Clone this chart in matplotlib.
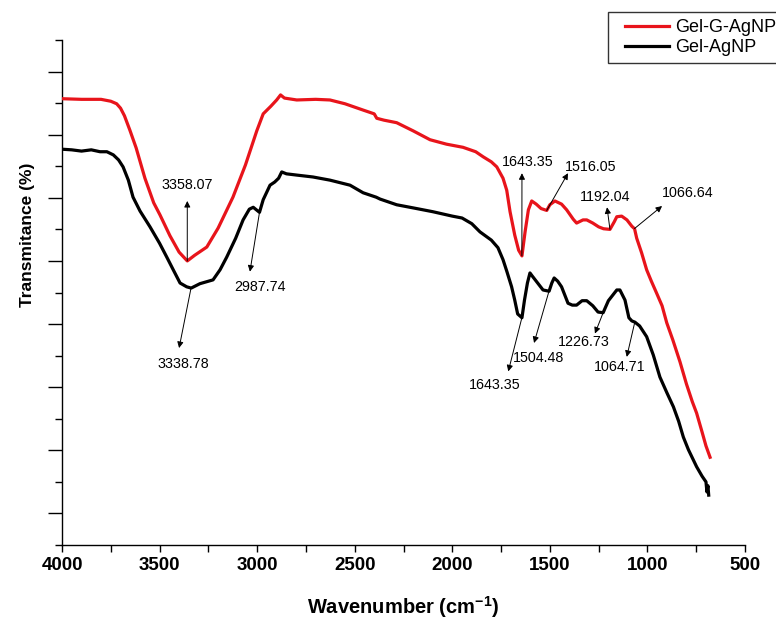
import numpy as np
import matplotlib
matplotlib.use("Agg")
import matplotlib.pyplot as plt
from matplotlib.ticker import MultipleLocator, FixedLocator, NullFormatter
from matplotlib.legend_handler import HandlerLine2D

plt.rcParams['font.family'] = ['Liberation Sans', 'DejaVu Sans']
plt.rcParams['mathtext.default'] = 'regular'

# FTIR spectrum, Gel-G-AgNP (wavenumber cm^-1, transmittance %)
wn_ggag = [4000, 3900, 3800, 3750, 3720, 3700, 3680, 3652, 3620, 3575, 3530, 3498,
           3447, 3400, 3358, 3320, 3258, 3200, 3124, 3060, 3002, 2969, 2930, 2900,
           2880, 2860, 2797, 2700, 2627, 2550, 2457, 2400, 2387, 2350, 2285, 2200,
           2114, 2030, 1945, 1880, 1842, 1800, 1772, 1740, 1721, 1704, 1680, 1660,
           1643, 1627, 1610, 1593, 1570, 1545, 1516, 1500, 1474, 1440, 1414, 1380,
           1363, 1330, 1311, 1280, 1250, 1225, 1192, 1170, 1157, 1132, 1105, 1080,
           1066, 1055, 1030, 1004, 980, 953, 925, 901, 870, 833, 800, 770, 748, 720,
           700, 679]
tr_ggag = [70.7, 70.6, 70.6, 70.3, 69.9, 69.2, 68.0, 65.7, 62.9, 58.1, 54.2, 52.3,
           49.0, 46.4, 45.0, 45.9, 47.2, 50.2, 55.1, 60.2, 65.6, 68.3, 69.5, 70.5,
           71.3, 70.8, 70.5, 70.6, 70.5, 69.9, 68.9, 68.3, 67.6, 67.3, 66.9, 65.6,
           64.2, 63.5, 63.0, 62.3, 61.5, 60.7, 59.9, 58.1, 56.2, 52.8, 49.1, 46.7,
           45.8, 49.6, 53.1, 54.5, 54.0, 53.3, 53.0, 53.9, 54.5, 54.0, 53.1, 51.6,
           51.0, 51.5, 51.5, 51.0, 50.4, 50.1, 50.0, 51.2, 52.0, 52.1, 51.5, 50.5,
           50.1, 48.6, 46.3, 43.6, 41.8, 39.9, 37.9, 35.2, 32.5, 29.0, 25.5, 22.7,
           20.9, 17.9, 15.7, 13.9]

# FTIR spectrum, Gel-AgNP
wn_gag = [4000, 3950, 3900, 3850, 3805, 3770, 3737, 3710, 3687, 3660, 3636, 3600,
          3549, 3500, 3463, 3430, 3395, 3361, 3338, 3293, 3226, 3190, 3156, 3110,
          3072, 3040, 3020, 2988, 2969, 2934, 2910, 2890, 2874, 2850, 2797, 2714,
          2627, 2524, 2457, 2390, 2370, 2285, 2200, 2100, 2000, 1950, 1900, 1858,
          1800, 1766, 1740, 1720, 1696, 1680, 1665, 1643, 1630, 1615, 1602, 1590,
          1560, 1535, 1504, 1490, 1478, 1460, 1440, 1407, 1385, 1363, 1335, 1311,
          1280, 1253, 1227, 1200, 1157, 1141, 1115, 1095, 1080, 1064, 1040, 1004,
          970, 936, 900, 867, 840, 816, 790, 748, 720, 700, 695, 690, 686]
tr_gag = [62.7, 62.6, 62.4, 62.6, 62.3, 62.3, 61.8, 61.0, 59.9, 57.8, 55.1, 52.9,
          50.4, 47.8, 45.6, 43.6, 41.5, 40.9, 40.7, 41.4, 42.0, 43.6, 45.6, 48.6,
          51.5, 53.2, 53.5, 52.7, 54.7, 57.0, 57.5, 58.1, 59.1, 58.8, 58.6, 58.3,
          57.8, 57.0, 55.8, 55.1, 54.8, 53.9, 53.4, 52.8, 52.1, 51.8, 50.9, 49.6,
          48.3, 47.1, 45.2, 43.3, 40.9, 38.8, 36.6, 36.0, 38.8, 41.5, 43.1, 42.6,
          41.4, 40.4, 40.2, 41.5, 42.3, 41.8, 40.9, 38.3, 38.0, 38.0, 38.7, 38.7,
          37.9, 36.9, 36.8, 38.7, 40.4, 40.4, 38.8, 36.0, 35.5, 35.3, 34.7, 33.0,
          30.1, 26.6, 24.1, 21.9, 19.6, 17.1, 15.1, 12.4, 10.9, 10.0, 8.4, 9.4, 7.9]

# Peak labels: (text, peak wavenumber, arrow-tip wavenumber, arrow-tip %, text wavenumber, text %)
peaks_ggag = [
    ("3358.07", 3358.07, 3358, 54.5, 3360, 57.0),
    ("1643.35", 1643.35, 1643, 58.9, 1612, 60.7),
    ("1516.05", 1516.05, 1407, 58.9, 1290, 59.9),
    ("1192.04", 1192.04, 1207, 53.5, 1217, 55.1),
    ("1066.64", 1066.64, 925, 53.7, 792, 55.7),
]
peaks_gag = [
    ("3338.78", 3338.78, 3400, 31.2, 3380, 28.7),
    ("2987.74", 2987.74, 3037, 43.3, 2985, 40.9),
    ("1643.35", 1643.35, 1713, 27.5, 1781, 25.4),
    ("1504.48", 1504.48, 1581, 32.0, 1556, 29.6),
    ("1226.73", 1226.73, 1269, 33.5, 1325, 32.2),
    ("1064.71", 1064.71, 1106, 29.8, 1140, 28.2),
]

fig = plt.figure(figsize=(7.76, 6.21), dpi=100)
ax = fig.add_axes([62 / 776, 1 - 545 / 621, 683 / 776, 505 / 621])

ax.plot(wn_ggag, tr_ggag, color='#e8141b', lw=2.3, label='Gel-G-AgNP', zorder=3)
ax.plot(wn_gag, tr_gag, color='black', lw=2.3, label='Gel-AgNP', zorder=3)

arrow_kw = dict(arrowstyle='-|>', lw=0.7, color='black', mutation_scale=9,
                shrinkA=0, shrinkB=0)


def mark_peaks(peaks, wn, tr):
    order = np.argsort(wn)
    wn_s = np.asarray(wn, float)[order]
    tr_s = np.asarray(tr, float)[order]
    for text, pos, tipx, tipy, tx, ty in peaks:
        y0 = np.interp(pos, wn_s, tr_s)
        ax.annotate('', xy=(tipx, tipy), xytext=(pos, y0), arrowprops=arrow_kw, zorder=4)
        ax.text(tx, ty, text, fontsize=10.3, ha='center', va='center', zorder=5)


mark_peaks(peaks_ggag, wn_ggag, tr_ggag)
mark_peaks(peaks_gag, wn_gag, tr_gag)

ax.set_xlim(4000, 500)
ax.set_ylim(0, 80)

ax.spines['top'].set_visible(False)
ax.spines['right'].set_visible(False)
for s in ('left', 'bottom'):
    ax.spines[s].set_linewidth(1.0)

ax.xaxis.set_major_locator(MultipleLocator(500))
ax.xaxis.set_minor_locator(MultipleLocator(250))
ax.yaxis.set_major_locator(FixedLocator(np.arange(5, 80, 10)))
ax.yaxis.set_minor_locator(FixedLocator(np.arange(0, 81, 10)))
ax.yaxis.set_major_formatter(NullFormatter())
ax.tick_params(axis='x', which='both', direction='out', length=5, width=1.0,
               labelsize=13.5, pad=3.5)
ax.tick_params(axis='y', which='major', direction='out', length=10, width=1.0)
ax.tick_params(axis='y', which='minor', direction='out', length=5, width=1.0)
for lab in ax.get_xticklabels():
    lab.set_fontweight('bold')

ax.set_xlabel('Wavenumber (cm$^{-1}$)', fontsize=14.5, fontweight='bold', va='center')
ax.xaxis.set_label_coords(0.5, (545 - 607) / 505)
ax.set_ylabel('Transmitance (%)', fontsize=12.5, fontweight='bold', va='center')
ax.yaxis.set_label_coords((28 - 62) / 683, (545 - 235) / 505)

# legend handles sit a little in from the frame's left edge
handler = HandlerLine2D(xpad=0.55)
leg = fig.legend(loc='upper left', bbox_to_anchor=(608 / 776, 1 - 12 / 621),
                 fontsize=13, frameon=True, fancybox=False, framealpha=1,
                 edgecolor='#333333', handlelength=3.0, handletextpad=0.33,
                 borderpad=0.4, labelspacing=0.15, borderaxespad=0,
                 handler_map={plt.Line2D: handler})
leg.get_frame().set_linewidth(1.0)

fig.savefig('out.png', dpi=100)
